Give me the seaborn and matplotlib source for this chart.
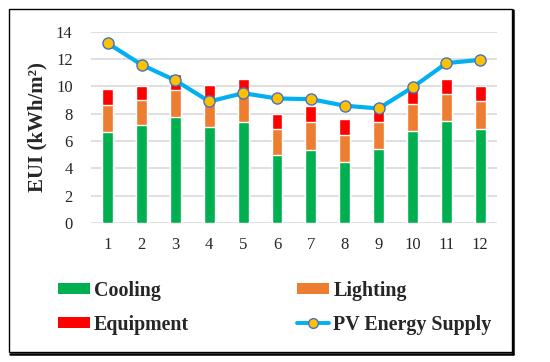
import matplotlib
matplotlib.use("Agg")
import matplotlib.pyplot as plt
import seaborn as sns
import pandas as pd
from matplotlib.patches import Patch, Rectangle
from matplotlib.lines import Line2D

# monthly EUI components (kWh/m2)
months = [str(m) for m in range(1, 13)]
cooling = [6.63, 7.15, 7.76, 7.02, 7.37, 4.95, 5.37, 4.46, 5.44, 6.71, 7.44, 6.90]
lighting = [2.03, 1.87, 2.00, 1.90, 1.95, 1.93, 2.04, 2.00, 1.93, 2.00, 2.00, 2.00]
equipment = [1.14, 1.03, 1.17, 1.18, 1.22, 1.10, 1.13, 1.17, 1.10, 1.19, 1.10, 1.15]
pv_supply = [13.17, 11.59, 10.44, 8.90, 9.51, 9.12, 9.07, 8.59, 8.39, 9.93, 11.71, 11.95]

c_cool = "#00B050"
c_light = "#ED7D31"
c_equip = "#FF0000"
c_line = "#00B0F0"

df = pd.DataFrame({
    "Month": months,
    "Cooling": cooling,
    "Lighting": lighting,
    "Equipment": equipment,
    "PV": pv_supply,
})
df["top_light"] = df["Cooling"] + df["Lighting"]
df["top_equip"] = df["top_light"] + df["Equipment"]
df["pos"] = range(len(df))

sns.set_style("white")
plt.rcParams["font.family"] = ["Liberation Serif", "DejaVu Serif"]

fig = plt.figure(figsize=(5.5, 3.62), dpi=100)
ax = fig.add_axes([0.165, 0.384, 0.739, 0.528])

# stacked bars drawn as cumulative heights, tallest first
for col, color in [("top_equip", c_equip), ("top_light", c_light), ("Cooling", c_cool)]:
    sns.barplot(data=df, x="Month", y=col, color=color, width=0.32,
                saturation=1, ax=ax, zorder=2)

sns.lineplot(data=df, x="pos", y="PV", ax=ax, color=c_line, linewidth=3.0,
             marker="o", markersize=8, markerfacecolor="#FFC000",
             markeredgecolor="#4472C4", markeredgewidth=1.0, zorder=3)

ax.set_xlim(-0.5, 11.5)
ax.set_ylim(0, 14)
ax.set_yticks(range(0, 15, 2))
ax.grid(axis="y", color="#D9D9D9", linewidth=1.2, zorder=0)
ax.set_axisbelow(True)
for s in ax.spines.values():
    s.set_visible(False)
ax.tick_params(axis="both", length=0, labelsize=12)
ax.tick_params(axis="y", pad=13)
ax.tick_params(axis="x", pad=10)
ax.set_xlabel("")
ax.set_ylabel("EUI (kWh/m²)", fontsize=15, fontweight="bold", labelpad=6)

handles = [
    Patch(facecolor=c_cool, edgecolor="none"),
    Patch(facecolor=c_equip, edgecolor="none"),
    Patch(facecolor=c_light, edgecolor="none"),
    Line2D([0], [0], color=c_line, linewidth=2.8, marker="o", markersize=7,
           markerfacecolor="#FFC000", markeredgecolor="#4472C4"),
]
labels = ["Cooling", "Equipment", "Lighting", "PV Energy Supply"]
fig.legend(handles, labels, loc="upper left", bbox_to_anchor=(0.091, 0.247),
           ncol=2, frameon=False, prop={"weight": "bold", "size": 14.4},
           handlelength=1.6, handleheight=0.45, handletextpad=0.2,
           columnspacing=5.4, labelspacing=0.7, borderaxespad=0)

# outer frame with a slight shadow
fig.patches.append(Rectangle((9 / 550, 1 - 352 / 362), 503 / 550, 343 / 362,
                             transform=fig.transFigure, fill=False,
                             edgecolor="black", linewidth=1.0))
fig.lines.append(Line2D([513 / 550, 513 / 550], [1 - 354 / 362, 1 - 10 / 362],
                        transform=fig.transFigure, color="black", linewidth=1.8))
fig.lines.append(Line2D([10 / 550, 513 / 550], [1 - 354 / 362, 1 - 354 / 362],
                        transform=fig.transFigure, color="black", linewidth=1.8))

fig.savefig("out.png", dpi=100)
